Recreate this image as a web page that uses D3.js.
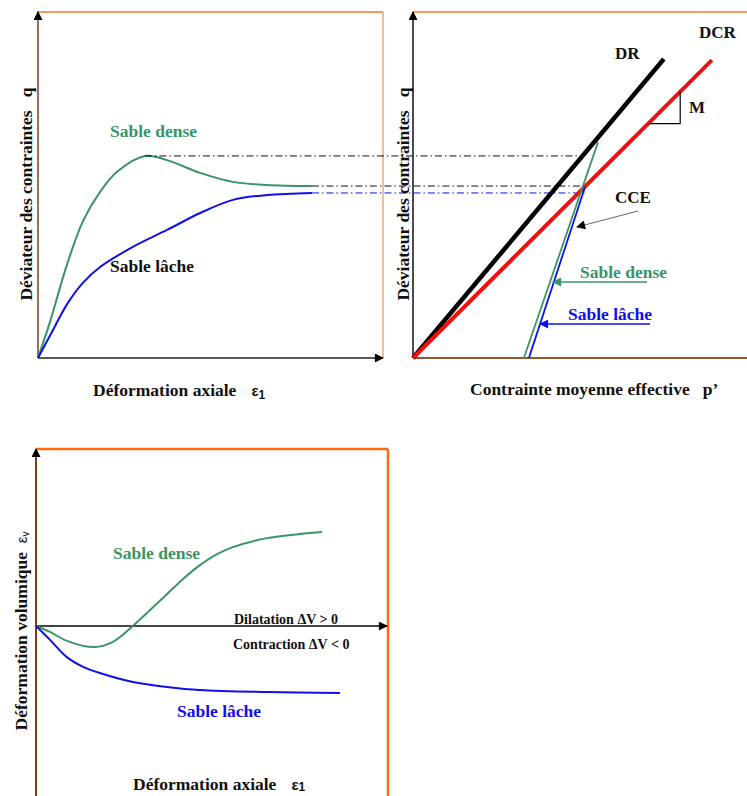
<!DOCTYPE html>
<html>
<head>
<meta charset="utf-8">
<script src="https://cdn.jsdelivr.net/npm/d3@7"></script>
<style>
  body { margin: 0; background: #fff; }
  svg { display: block; }
  text { font-family: "Liberation Serif", "Times New Roman", serif; font-weight: bold; white-space: pre; }
</style>
</head>
<body>
<div id="viz"></div>
<script>
// curves (arbitrary units, 0..10)

// panel 1 : q vs axial strain
let denseQ = [[0,0],[0.35,1.05],[0.84,2.70],[1.30,3.95],[1.80,4.80],[2.29,5.38],[3.10,5.84],[3.74,5.72],[4.70,5.35],[5.65,5.09],[6.64,5.00],[7.94,4.97]];
let looseQ = [[0,0],[0.35,0.65],[0.84,1.55],[1.30,2.17],[1.80,2.63],[2.75,3.21],[3.74,3.70],[4.70,4.19],[5.65,4.57],[6.64,4.71],[7.94,4.77]];

// panel 2 : q vs p'
let lineDR = [[0,0],[7.51,8.64]];
let lineDCR = [[0,0],[8.95,8.61]];
let pathDense = [[3.32,0],[5.54,6.24]];
let pathLoose = [[3.47,0],[5.15,4.94]];
// dash-dot projections: [q level, start strain in panel 1, end p' in panel 2, colour key]
let projections = [[5.84, 3.10, 5.00, 'k'], [4.97, 7.94, 5.09, 'k'], [4.77, 7.94, 5.20, 'b']];

// panel 3 : volumetric strain vs axial strain
let denseV = [[0,0],[0.40,-0.17],[0.88,-0.43],[1.68,-0.61],[2.19,-0.46],[2.76,0],[3.25,0.46],[3.73,0.92],[4.19,1.36],[4.67,1.76],[5.16,2.08],[5.61,2.28],[6.58,2.54],[8.15,2.72]];
let looseV = [[0,0],[0.40,-0.40],[0.88,-0.90],[1.34,-1.18],[1.82,-1.36],[2.76,-1.62],[3.73,-1.76],[4.67,-1.85],[6.58,-1.91],[8.66,-1.94]];

let colors = {k: '#111', g: '#3a9465', b: '#1010e8', r: '#ee1111', orange: '#f07a2a', brown: '#7a3e1c'};
const sans = '"Liberation Sans", Arial, sans-serif';

const svg = d3.select('#viz').append('svg')
    .attr('width', 747)
    .attr('height', 796);

// arrowheads
const defs = svg.append('defs');
[['k', '#000'], ['g', colors.g], ['b', colors.b]].forEach(function(m) {
    defs.append('marker')
        .attr('id', 'arrow-' + m[0])
        .attr('viewBox', '0 0 10 10')
        .attr('refX', 9).attr('refY', 5)
        .attr('markerWidth', 11).attr('markerHeight', 9)
        .attr('markerUnits', 'userSpaceOnUse')
        .attr('orient', 'auto')
        .append('path')
            .attr('d', 'M0,0 L10,5 L0,10 Z')
            .attr('fill', m[1]);
});

function seg(g, x1, y1, x2, y2, stroke, w) {
    return g.append('line')
        .attr('x1', x1).attr('y1', y1).attr('x2', x2).attr('y2', y2)
        .attr('stroke', stroke).attr('stroke-width', w);
}

function label(g, x, y, txt, color, size) {
    return g.append('text')
        .attr('x', x).attr('y', y)
        .attr('fill', color)
        .style('font-size', size + 'px')
        .text(txt);
}

function vlabel(g, x, y, txt, size) {
    return g.append('text')
        .attr('transform', `translate(${x},${y}) rotate(-90)`)
        .attr('text-anchor', 'middle')
        .style('font-size', size + 'px')
        .attr('fill', colors.k)
        .text(txt);
}

//SCALES
const x1 = d3.scaleLinear().domain([0, 10]).range([38, 383]);
const q = d3.scaleLinear().domain([0, 10]).range([358, 12]);
const p = d3.scaleLinear().domain([0, 10]).range([413, 747]);
const x3 = d3.scaleLinear().domain([0, 10]).range([36, 387]);
const v = d3.scaleLinear().domain([0, 5]).range([626, 453]);

// smooth curve through the read points
const smooth = d3.curveCatmullRom.alpha(0.5);

// ---------- panel 1 ----------
const g1 = svg.append('g');
seg(g1, 37, 12, 383, 12, colors.orange, 1.5);
seg(g1, 383, 12, 383, 358, '#e8a870', 1.5);
seg(g1, x1(0), q(0), 383, q(0), '#222', 1.5).attr('marker-end', 'url(#arrow-k)');
seg(g1, x1(0), q(0), x1(0), 12, colors.brown, 1.5).attr('marker-end', 'url(#arrow-k)');

const line1 = d3.line().x(d => x1(d[0])).y(d => q(d[1])).curve(smooth);
g1.append('path').datum(denseQ).attr('d', line1).attr('fill', 'none').attr('stroke', colors.g).attr('stroke-width', 2);
g1.append('path').datum(looseQ).attr('d', line1).attr('fill', 'none').attr('stroke', colors.b).attr('stroke-width', 2);

label(g1, 110, 137, 'Sable dense', colors.g, 17.5);
label(g1, 110, 272, 'Sable lâche', colors.k, 17.5);

const xl1 = label(g1, 93, 396, 'Déformation axiale', colors.k, 17.5);
xl1.append('tspan').attr('dx', 15).style('font-family', sans).style('font-size', '15px').text('ε');
xl1.append('tspan').attr('dy', 3).style('font-family', sans).style('font-size', '12px').text('1');

vlabel(g1, 32, 194, 'Déviateur des contraintes   q', 17.5);

// ---------- projections between panels 1 and 2 ----------
projections.forEach(function(d) {
    seg(svg, x1(d[1]), q(d[0]), p(d[2]), q(d[0]), d[3] === 'b' ? colors.b : '#111', 1)
        .attr('stroke-dasharray', '7,3,1.5,3');
});

// ---------- panel 2 ----------
const g2 = svg.append('g');
seg(g2, p(0), 12, 747, 12, colors.orange, 1.5);
seg(g2, p(0), q(0), 747, q(0), '#8a5a38', 2);
seg(g2, p(0), q(0), p(0), 12, '#111', 1.5).attr('marker-end', 'url(#arrow-k)');

const line2 = d3.line().x(d => p(d[0])).y(d => q(d[1]));
g2.append('path').datum(lineDR).attr('d', line2).attr('stroke', '#000').attr('stroke-width', 4.5);
g2.append('path').datum(lineDCR).attr('d', line2).attr('stroke', colors.r).attr('stroke-width', 4);
g2.append('path').datum(pathDense).attr('d', line2).attr('stroke', colors.g).attr('stroke-width', 1.8);
g2.append('path').datum(pathLoose).attr('d', line2).attr('stroke', colors.b).attr('stroke-width', 1.8);

// slope triangle M on DCR
const slopeM = lineDCR[1][1] / lineDCR[1][0];
const mA = 7.04, mB = 8.0;
g2.append('path')
    .attr('d', `M${p(mA)},${q(mA * slopeM)} H${p(mB)} V${q(mB * slopeM)}`)
    .attr('fill', 'none').attr('stroke', '#000').attr('stroke-width', 1.2);

label(g2, 689, 113, 'M', colors.k, 17);
label(g2, 615, 59, 'DR', colors.k, 17);
label(g2, 699, 38, 'DCR', colors.k, 17);
label(g2, 615, 203, 'CCE', colors.k, 17);
seg(g2, 638, 211, 577, 227, '#666', 1).attr('marker-end', 'url(#arrow-k)');

label(g2, 580, 278, 'Sable dense', colors.g, 17.5);
seg(g2, 647, 282, 553, 282, colors.g, 1.5).attr('marker-end', 'url(#arrow-g)');
label(g2, 568, 320, 'Sable lâche', colors.b, 17.5);
seg(g2, 650, 324, 540, 324, colors.b, 1.5).attr('marker-end', 'url(#arrow-b)');

label(g2, 470, 395, 'Contrainte moyenne effective   p’', colors.k, 17.5);

vlabel(g2, 409, 194, 'Déviateur des contraintes   q', 17.5);

// ---------- panel 3 ----------
const g3 = svg.append('g');
seg(g3, 36, 449, 388, 449, '#ff6a10', 2.5);
seg(g3, 388, 449, 388, 796, '#ff6a10', 2.5);
seg(g3, x3(0), 796, x3(0), 449, colors.brown, 2).attr('marker-end', 'url(#arrow-k)');
seg(g3, x3(0), v(0), 387, v(0), '#444', 2).attr('marker-end', 'url(#arrow-k)');

const line3 = d3.line().x(d => x3(d[0])).y(d => v(d[1])).curve(smooth);
g3.append('path').datum(denseV).attr('d', line3).attr('fill', 'none').attr('stroke', colors.g).attr('stroke-width', 2);
g3.append('path').datum(looseV).attr('d', line3).attr('fill', 'none').attr('stroke', colors.b).attr('stroke-width', 2);

label(g3, 113, 559, 'Sable dense', colors.g, 17.5);
label(g3, 177, 717, 'Sable lâche', colors.b, 17.5);
label(g3, 234, 624, 'Dilatation ΔV > 0', colors.k, 14);
label(g3, 233, 649, 'Contraction ΔV < 0', colors.k, 14);

const xl3 = label(g3, 133, 790, 'Déformation axiale', colors.k, 17.5);
xl3.append('tspan').attr('dx', 15).style('font-family', sans).style('font-size', '15px').text('ε');
xl3.append('tspan').attr('dy', 1).style('font-family', sans).style('font-size', '12px').text('1');

const yl3 = vlabel(g3, 27, 631, 'Déformation volumique  ', 17.5);
yl3.append('tspan').style('font-family', sans).style('font-weight', 'normal').style('font-size', '15px').text('ε');
yl3.append('tspan').attr('dy', 2).style('font-family', sans).style('font-weight', 'normal').style('font-size', '10px').text('v');
</script>
</body>
</html>
